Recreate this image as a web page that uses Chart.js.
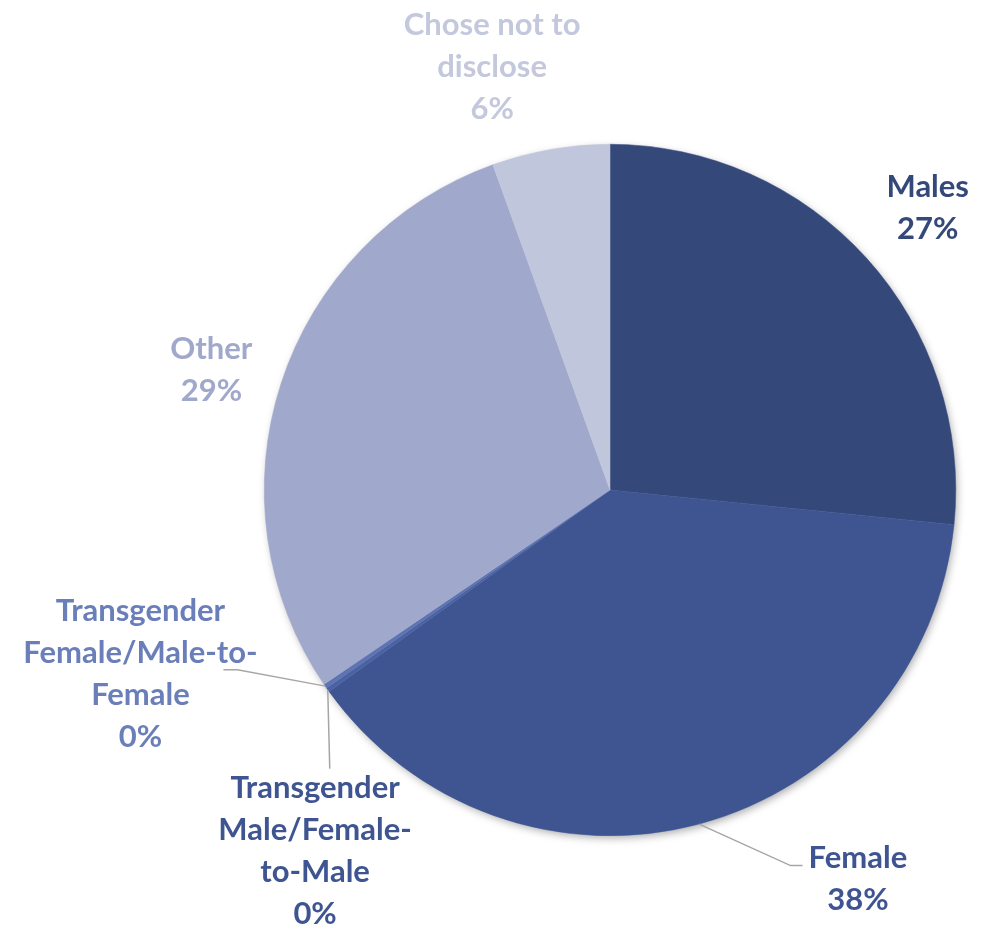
<!DOCTYPE html>
<html>
<head>
<meta charset="utf-8">
<script src="https://cdn.jsdelivr.net/npm/chart.js@4"></script>
<style>
  html, body { margin: 0; padding: 0; background: #fff; }
  #genderPie { display: block; }
</style>
</head>
<body>
<canvas id="genderPie" width="988" height="930"></canvas>
<script>
// data
const categories = ['Males', 'Female', 'Transgender Male/Female-to-Male', 'Transgender Female/Male-to-Female', 'Other', 'Chose not to disclose']
const shares = [26.6, 38.5, 0.2, 0.2, 29.0, 5.5]
const shownPercents = ['27%', '38%', '0%', '0%', '29%', '6%']
const labelLines = [
  ['Males'],
  ['Female'],
  ['Transgender', 'Male/Female-', 'to-Male'],
  ['Transgender', 'Female/Male-to-', 'Female'],
  ['Other'],
  ['Chose not to', 'disclose']
]

const sliceColors = ['#34497a', '#3e5591', '#4a62a2', '#5d73b2', '#a0a8cb', '#c0c6dc']
const textColors = ['#34497a', '#3e5591', '#3e5591', '#6a7fba', '#a0a8cb', '#c3c8dd']

// label centres, in units of the pie radius from its centre
const labelSpots = [[0.919, -0.815], [0.717, 1.124], [-0.853, 1.043], [-1.358, 0.532], [-1.153, -0.347], [-0.341, -1.223]]
// leader line: 'left' elbow, 'right' elbow, 'top' straight down, or none
const leaders = [null, 'left', 'top', 'right', null, null]

const lineGap = 42
const labelFont = 'bold 31px Lato, "Open Sans", sans-serif'

const pieShadow = {
  id: 'pieShadow',
  beforeDatasetsDraw(chart) {
    const arc = chart.getDatasetMeta(0).data[0]
    const ctx = chart.ctx
    ctx.save()
    ctx.shadowColor = 'rgba(0,0,0,0.35)'
    ctx.shadowBlur = 8
    ctx.shadowOffsetX = 2
    ctx.shadowOffsetY = 3
    ctx.fillStyle = '#ffffff'
    ctx.beginPath()
    ctx.arc(arc.x, arc.y, arc.outerRadius - 1, 0, Math.PI * 2)
    ctx.fill()
    ctx.restore()
  }
}

const pieLabels = {
  id: 'pieLabels',
  afterDatasetsDraw(chart) {
    const ctx = chart.ctx
    const meta = chart.getDatasetMeta(0)
    const cx = meta.data[0].x
    const cy = meta.data[0].y
    const r = meta.data[0].outerRadius
    ctx.save()
    ctx.font = labelFont
    ctx.textAlign = 'center'
    ctx.textBaseline = 'middle'
    meta.data.forEach((arc, i) => {
      const lines = labelLines[i].concat([shownPercents[i]])
      const lx = cx + labelSpots[i][0] * r
      const ly = cy + labelSpots[i][1] * r
      const top = ly - (lines.length - 1) * lineGap / 2
      const mid = (arc.startAngle + arc.endAngle) / 2
      const px = cx + Math.cos(mid) * r
      const py = cy + Math.sin(mid) * r
      const kind = leaders[i]
      if (kind) {
        ctx.strokeStyle = '#a6a6a6'
        ctx.lineWidth = 1.5
        ctx.beginPath()
        ctx.moveTo(px, py)
        if (kind === 'top') {
          ctx.lineTo(px + 2, top - lineGap / 2 + 2)
        } else if (kind === 'left') {
          const w = ctx.measureText(lines[0]).width
          const ex = lx - w / 2 - 6
          ctx.lineTo(ex - 12, top + 8)
          ctx.lineTo(ex, top + 8)
        } else {
          const ey = top + lineGap * 1.4
          ctx.lineTo(lx + 97, ey)
          ctx.lineTo(lx + 83, ey)
        }
        ctx.stroke()
      }
      ctx.fillStyle = textColors[i]
      lines.forEach((t, k) => ctx.fillText(t, lx, top + k * lineGap))
    })
    ctx.restore()
  }
}

new Chart(document.getElementById('genderPie'), {
  type: 'pie',
  data: {
    labels: categories,
    datasets: [{
      data: shares,
      backgroundColor: sliceColors,
      borderColor: sliceColors,
      borderWidth: 0.5
    }]
  },
  options: {
    responsive: false,
    animation: false,
    layout: { padding: { left: 264, right: 32, top: 144, bottom: 94 } },
    plugins: {
      legend: { display: false },
      tooltip: { enabled: false }
    }
  },
  plugins: [pieShadow, pieLabels]
})
</script>
</body>
</html>
